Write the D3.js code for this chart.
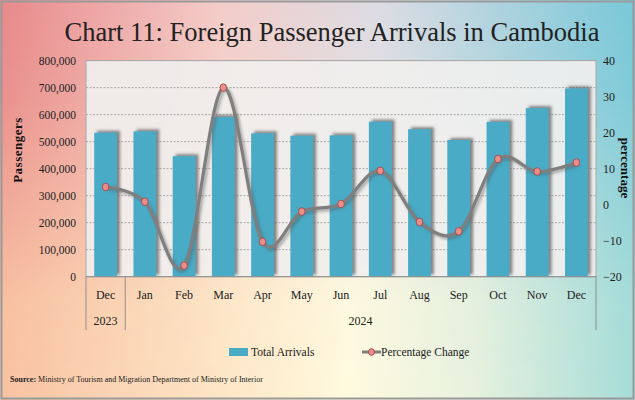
<!DOCTYPE html>
<html>
<head>
<meta charset="utf-8">
<script src="https://cdn.jsdelivr.net/npm/d3@7"></script>
<style>
  html, body { margin: 0; padding: 0; background: #fff; }
  svg { display: block; font-family: "Liberation Serif", "Times New Roman", serif; }
</style>
</head>
<body>
<svg id="chart" width="635" height="400"></svg>
<script>
(function() {
    const width = 635;
    const height = 400;

    // data
    const months = ["Dec", "Jan", "Feb", "Mar", "Apr", "May", "Jun", "Jul", "Aug", "Sep", "Oct", "Nov", "Dec"];
    const arrivals = [533000, 538000, 446000, 591000, 531000, 522000, 523000, 574000, 546000, 506000, 573000, 624000, 697000];
    const pctChange = [4.9, 0.8, -16.9, 32.5, -10.3, -1.9, 0.2, 9.4, -4.8, -7.4, 12.7, 9.2, 11.7];
    const years = ["2023", "2024"];
    const yearStart = [0, 1];
    const yearEnd = [0, 12];
    const leftTicks = [0, 100000, 200000, 300000, 400000, 500000, 600000, 700000, 800000];
    const rightTicks = [-20, -10, 0, 10, 20, 30, 40];

    const plot = { left: 86, right: 596, top: 60.6, bottom: 276.7 };

    const svg = d3.select("#chart");
    const defs = svg.append("defs");

    // background: top colour band blended into bottom colour band
    function hGrad(id, stops) {
        const g = defs.append("linearGradient").attr("id", id)
            .attr("x1", 0).attr("y1", 0).attr("x2", 1).attr("y2", 0);
        stops.forEach(s => g.append("stop").attr("offset", s[0]).attr("stop-color", s[1]));
    }
    hGrad("bgTop", [["0%", "#e8898a"], ["35%", "#f4cdca"], ["60%", "#dcdce4"], ["100%", "#79c8d9"]]);
    hGrad("bgBottom", [["0%", "#f8c2a2"], ["35%", "#fde6c6"], ["55%", "#fffadf"], ["75%", "#e6f1de"], ["100%", "#a6dcd8"]]);

    const fade = defs.append("linearGradient").attr("id", "fade")
        .attr("x1", 0).attr("y1", 0).attr("x2", 0).attr("y2", 1);
    fade.append("stop").attr("offset", "0%").attr("stop-color", "#fff").attr("stop-opacity", 0);
    fade.append("stop").attr("offset", "25%").attr("stop-color", "#fff").attr("stop-opacity", 0.15);
    fade.append("stop").attr("offset", "75%").attr("stop-color", "#fff").attr("stop-opacity", 0.95);
    fade.append("stop").attr("offset", "100%").attr("stop-color", "#fff").attr("stop-opacity", 1);
    defs.append("mask").attr("id", "fadeMask")
        .append("rect").attr("width", width).attr("height", height).attr("fill", "url(#fade)");

    const shadow = defs.append("filter").attr("id", "shadow")
        .attr("x", "-30%").attr("y", "-10%").attr("width", "160%").attr("height", "120%");
    shadow.append("feDropShadow").attr("dx", 3).attr("dy", -2)
        .attr("stdDeviation", 1.5).attr("flood-color", "#555").attr("flood-opacity", 0.7);

    const lineShadow = defs.append("filter").attr("id", "lineShadow")
        .attr("x", "-10%").attr("y", "-10%").attr("width", "120%").attr("height", "120%");
    lineShadow.append("feDropShadow").attr("dx", 2).attr("dy", 2)
        .attr("stdDeviation", 1.5).attr("flood-color", "#555").attr("flood-opacity", 0.5);

    svg.append("rect").attr("width", width).attr("height", height).attr("fill", "url(#bgTop)");
    svg.append("rect").attr("width", width).attr("height", height).attr("fill", "url(#bgBottom)")
        .attr("mask", "url(#fadeMask)");
    svg.append("rect").attr("x", 1.5).attr("y", 1.5).attr("width", width - 3).attr("height", height - 3)
        .attr("fill", "none").attr("stroke", "#9a9a9a").attr("stroke-width", 2);

    // title
    svg.append("text")
        .attr("x", 332).attr("y", 41)
        .attr("text-anchor", "middle")
        .style("font-size", "26.5px")
        .attr("fill", "#222")
        .text("Chart 11: Foreign Passenger Arrivals in Cambodia");

    // scales
    const x = d3.scaleBand()
        .domain(d3.range(months.length))
        .range([plot.left, plot.right])
        .paddingInner(0.42)
        .paddingOuter(0.21);

    const y = d3.scaleLinear().domain([0, 800000]).range([plot.bottom, plot.top]);
    const y2 = d3.scaleLinear().domain([-20, 40]).range([plot.bottom, plot.top]);

    // plot area
    svg.append("rect")
        .attr("x", plot.left).attr("y", plot.top)
        .attr("width", plot.right - plot.left).attr("height", plot.bottom - plot.top)
        .attr("fill", "#f0efee").attr("fill-opacity", 0.92)
        .attr("stroke", "#a8a8a8").attr("stroke-width", 1);

    // gridlines
    svg.append("g")
        .selectAll("line")
        .data(leftTicks.slice(1))
        .enter().append("line")
        .attr("x1", plot.left).attr("x2", plot.right)
        .attr("y1", d => y(d)).attr("y2", d => y(d))
        .attr("stroke", "#a9a9a9")
        .attr("stroke-dasharray", "2,1.5")
        .attr("stroke-width", 1);

    // left axis
    const leftAxis = svg.append("g")
        .attr("transform", `translate(${plot.left},0)`)
        .call(d3.axisLeft(y).tickValues(leftTicks).tickSize(0).tickPadding(10)
            .tickFormat(d3.format(",")));
    leftAxis.select(".domain").remove();
    leftAxis.selectAll("text")
        .style("font-family", "Liberation Serif, serif")
        .style("font-size", "11.5px")
        .attr("fill", "#222");

    // right axis
    const rightAxis = svg.append("g")
        .attr("transform", `translate(${plot.right},0)`)
        .call(d3.axisRight(y2).tickValues(rightTicks).tickSize(0).tickPadding(7));
    rightAxis.select(".domain").remove();
    rightAxis.selectAll("text")
        .style("font-family", "Liberation Serif, serif")
        .style("font-size", "12px")
        .attr("fill", "#222");

    // axis titles
    svg.append("text")
        .attr("transform", "translate(22,150) rotate(-90)")
        .attr("text-anchor", "middle")
        .style("font-size", "13px")
        .style("font-weight", "bold")
        .style("letter-spacing", "0.5px")
        .attr("fill", "#111")
        .text("Passengers");

    svg.append("text")
        .attr("transform", "translate(621,168) rotate(90)")
        .attr("text-anchor", "middle")
        .style("font-size", "13px")
        .style("font-weight", "bold")
        .attr("fill", "#111")
        .text("percentage");

    // bars
    svg.append("g")
        .attr("filter", "url(#shadow)")
        .selectAll("rect")
        .data(arrivals)
        .enter().append("rect")
        .attr("x", (d, i) => x(i))
        .attr("y", d => y(d))
        .attr("width", x.bandwidth())
        .attr("height", d => y(0) - y(d))
        .attr("fill", "#4aabc6");

    // x axis line and category dividers
    const step = x.step();
    svg.append("line")
        .attr("x1", plot.left).attr("x2", plot.right)
        .attr("y1", plot.bottom).attr("y2", plot.bottom)
        .attr("stroke", "#8f8f8f");

    const dividers = [plot.left, plot.right];
    yearStart.slice(1).forEach(s => dividers.push(plot.left + step * s));
    svg.append("g")
        .selectAll("line")
        .data(dividers)
        .enter().append("line")
        .attr("x1", d => d).attr("x2", d => d)
        .attr("y1", plot.bottom).attr("y2", 330)
        .attr("stroke", "#8f8f8f");

    svg.append("g")
        .selectAll("text")
        .data(months)
        .enter().append("text")
        .attr("x", (d, i) => x(i) + x.bandwidth() / 2)
        .attr("y", 299)
        .attr("text-anchor", "middle")
        .style("font-size", "12px")
        .attr("fill", "#222")
        .text(d => d);

    svg.append("g")
        .selectAll("text")
        .data(years)
        .enter().append("text")
        .attr("x", (d, i) => plot.left + step * (yearStart[i] + yearEnd[i] + 1) / 2)
        .attr("y", 325)
        .attr("text-anchor", "middle")
        .style("font-size", "12px")
        .attr("fill", "#222")
        .text(d => d);

    // percentage line
    const line = d3.line()
        .x((d, i) => x(i) + x.bandwidth() / 2)
        .y(d => y2(d))
        .curve(d3.curveCardinal);

    svg.append("path")
        .datum(pctChange)
        .attr("d", line)
        .attr("fill", "none")
        .attr("stroke", "#7f7f7f")
        .attr("stroke-width", 3.2)
        .attr("filter", "url(#lineShadow)");

    svg.append("g")
        .selectAll("ellipse")
        .data(pctChange)
        .enter().append("ellipse")
        .attr("cx", (d, i) => x(i) + x.bandwidth() / 2)
        .attr("cy", d => y2(d))
        .attr("rx", 3.3).attr("ry", 3.8)
        .attr("fill", "#ea8d8b")
        .attr("stroke", "#a0413f")
        .attr("stroke-width", 0.8);

    // legend
    const legend = svg.append("g");
    legend.append("rect")
        .attr("x", 229).attr("y", 348).attr("width", 19).attr("height", 8)
        .attr("fill", "#4aabc6");
    legend.append("text")
        .attr("x", 251).attr("y", 356)
        .style("font-size", "11.5px").attr("fill", "#222")
        .text("Total Arrivals");
    legend.append("line")
        .attr("x1", 362).attr("x2", 381).attr("y1", 352).attr("y2", 352)
        .attr("stroke", "#7f7f7f").attr("stroke-width", 3);
    legend.append("ellipse")
        .attr("cx", 371.5).attr("cy", 352).attr("rx", 3).attr("ry", 3.4)
        .attr("fill", "#ea8d8b").attr("stroke", "#a0413f").attr("stroke-width", 0.8);
    legend.append("text")
        .attr("x", 381).attr("y", 356)
        .style("font-size", "11.5px").attr("fill", "#222")
        .text("Percentage Change");

    // source note
    const src = svg.append("text")
        .attr("x", 10).attr("y", 382)
        .style("font-size", "8px").attr("fill", "#222");
    src.append("tspan").style("font-weight", "bold").text("Source: ");
    src.append("tspan").text("Ministry of Tourism and Migration Department of Ministry of Interior");
})();
</script>
</body>
</html>
